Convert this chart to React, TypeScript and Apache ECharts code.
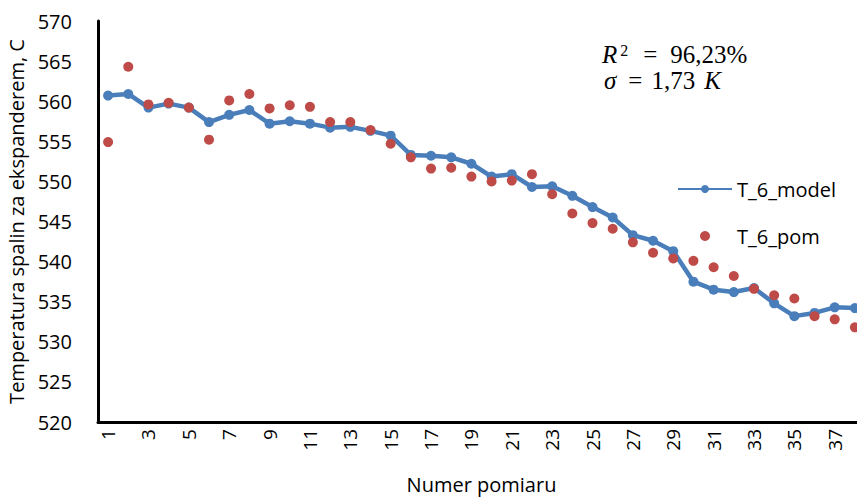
import React, { useEffect, useRef } from "react";
import * as echarts from "echarts";

const categories: string[] = Array.from({ length: 38 }, (_, i) => String(i + 1));

const modelValues: number[] = [
  560.7, 560.9, 559.2, 559.7, 559.2, 557.4, 558.3, 558.9, 557.2, 557.5,
  557.2, 556.7, 556.8, 556.3, 555.7, 553.3, 553.2, 553.0, 552.2, 550.6,
  550.9, 549.3, 549.4, 548.2, 546.8, 545.5, 543.3, 542.6, 541.3, 537.5,
  536.5, 536.2, 536.7, 534.8, 533.2, 533.6, 534.3, 534.2,
];

const pomValues: number[] = [
  554.9, 564.3, 559.6, 559.8, 559.2, 555.2, 560.1, 560.9, 559.1, 559.5,
  559.3, 557.4, 557.4, 556.4, 554.7, 553.0, 551.6, 551.7, 550.6, 550.0,
  550.1, 550.9, 548.4, 546.0, 544.8, 544.1, 542.4, 541.1, 540.4, 540.1,
  539.3, 538.2, 536.6, 535.8, 535.4, 533.2, 532.8, 531.8,
];

const seriesNames = ["T_6_model", "T_6_pom"];
const yAxisTitle = "Temperatura spalin za ekspanderem, C";
const xAxisTitle = "Numer pomiaru";

const FONT = "Open Sans";
const SERIF = "Liberation Serif";
const BLUE = "#4A7EBB";
const RED = "#BE4B48";

export default function App() {
  const ref = useRef<HTMLDivElement>(null);

  useEffect(() => {
    if (!ref.current) return;
    const chart = echarts.init(ref.current, null, { renderer: "svg" });
    chart.setOption({
      animation: false,
      backgroundColor: "#ffffff",
      textStyle: { fontFamily: FONT },
      grid: {
        left: 98,
        right: -8,
        top: 21,
        bottom: 76,
        containLabel: false,
        outerBoundsMode: "none",
      },
      legend: [
        {
          data: [seriesNames[0]],
          left: 672,
          top: 174,
          itemWidth: 54,
          itemHeight: 10,
          textStyle: { fontFamily: FONT, fontSize: 20, color: "#000" },
        },
        {
          data: [{ name: seriesNames[1], icon: "circle" }],
          left: 695,
          top: 221,
          itemWidth: 54,
          itemHeight: 10,
          textStyle: { fontFamily: FONT, fontSize: 20, color: "#000" },
        },
      ],
      xAxis: {
        type: "category",
        data: categories,
        boundaryGap: true,
        name: xAxisTitle,
        nameLocation: "middle",
        nameGap: 52,
        nameTextStyle: { fontFamily: FONT, fontSize: 20, color: "#000" },
        axisLine: { show: true, lineStyle: { color: "#000", width: 3 } },
        axisTick: { show: false },
        axisLabel: {
          interval: 1,
          rotate: 90,
          margin: 7,
          fontFamily: FONT,
          fontSize: 19,
          color: "#000",
        },
        splitLine: { show: false },
      },
      yAxis: {
        type: "value",
        min: 520,
        max: 570,
        interval: 5,
        name: yAxisTitle,
        nameLocation: "middle",
        nameGap: 72,
        nameTextStyle: { fontFamily: FONT, fontSize: 20, color: "#000" },
        axisLine: { show: true, lineStyle: { color: "#000", width: 3 } },
        axisTick: { show: false },
        axisLabel: { margin: 26, fontFamily: FONT, fontSize: 20, color: "#000" },
        splitLine: { show: false },
      },
      series: [
        {
          name: seriesNames[0],
          type: "line",
          data: modelValues,
          symbol: "circle",
          symbolSize: 10,
          lineStyle: { color: BLUE, width: 4.5 },
          itemStyle: { color: BLUE },
          z: 2,
        },
        {
          name: seriesNames[1],
          type: "scatter",
          data: pomValues,
          symbol: "circle",
          symbolSize: 10,
          itemStyle: { color: RED, opacity: 1 },
          z: 3,
        },
      ],
      graphic: [
        {
          type: "text",
          left: 602,
          top: 42,
          style: {
            text: "{i|R}{s|2}{e|=}{n|96,23%}",
            rich: {
              i: { fontFamily: SERIF, fontStyle: "italic", fontSize: 25, lineHeight: 25, fill: "#000" },
              s: { fontFamily: SERIF, fontSize: 16, lineHeight: 16, verticalAlign: "top", fill: "#000", padding: [0, 2, 0, 3] },
              e: { fontFamily: SERIF, fontSize: 25, lineHeight: 25, fill: "#000", padding: [0, 13, 0, 13] },
              n: { fontFamily: SERIF, fontSize: 25, lineHeight: 25, fill: "#000", padding: [0, 0, 0, 0] },
            },
          },
        },
        {
          type: "text",
          left: 604,
          top: 68,
          style: {
            text: "{i|σ}{e|=}{n|1,73}{k|K}",
            rich: {
              i: { fontFamily: SERIF, fontStyle: "italic", fontSize: 25, lineHeight: 25, fill: "#000" },
              e: { fontFamily: SERIF, fontSize: 25, lineHeight: 25, fill: "#000", padding: [0, 9, 0, 12] },
              n: { fontFamily: SERIF, fontSize: 25, lineHeight: 25, fill: "#000" },
              k: { fontFamily: SERIF, fontStyle: "italic", fontSize: 25, lineHeight: 25, fill: "#000", padding: [0, 0, 0, 9] },
            },
          },
        },
      ],
    });
    return () => chart.dispose();
  }, []);

  return (
    <div
      ref={ref}
      style={{ position: "absolute", left: 0, top: 0, width: 857, height: 498 }}
    />
  );
}
